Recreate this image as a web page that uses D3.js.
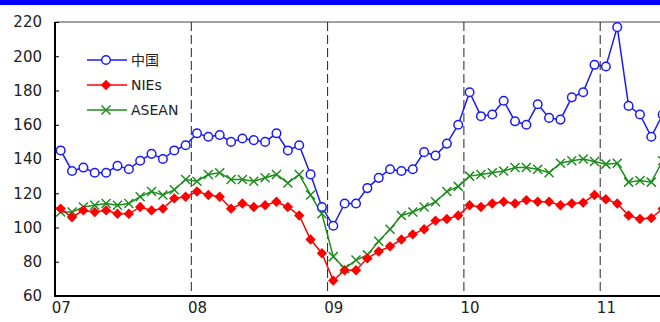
<!DOCTYPE html>
<html><head><meta charset="utf-8">
<script src="https://cdn.jsdelivr.net/npm/d3@7"></script>
<style>body{margin:0;background:#fff}svg{display:block}</style>
</head><body>
<svg id="c" width="660" height="322"></svg>
<script>
const years = ["07","08","09","10","11"];
const seriesNames = ["中国","NIEs","ASEAN"];
const china = [145,133,135,132,132,136,134,139,143,140,145,148,
155,153,154,150,152,151,150,155,145,148,131,112,
101,114,114,123,129,134,133,134,144,142,149,160,
179,165,166,174,162,160,172,164,163,176,179,195,
194,217,171,166,153,166];
const nies = [111,106,110,109,110,108,108,112,110,111,117,118,
121,119,118,111,114,112,113,115,112,107,93,85,
69,75,75,82,86,89,93,96,99,104,105,107,
113,112,114,115,114,116,115,115,113,114,114.5,119,
116.5,114,107,105,105.5,111];
const asean = [109,109,112,113,114,113,114,118,121,119,122,128,
127,131,132,128,128,127,129,131,126,131,119,108,
83,76,81,84,92,99,107,109,112,115,121,124,
130,131,132,133,135,135,134,132,137.5,139,140,138.5,
137,137.5,126.5,127.5,126.5,139];
const yTicks = [60,80,100,120,140,160,180,200,220];

const svg = d3.select("#c");
const L = 55, T = 22, B = 296;
const x = d3.scaleLinear().domain([0,5]).range([L, L + 5*136.3]);
const y = d3.scaleLinear().domain([60,220]).range([B, T]);
const tx = i => x(Math.floor(i/12) + ((i%12)+0.5)/12);

// top blue band
svg.append("rect").attr("x",0).attr("y",0).attr("width",660).attr("height",5).attr("fill","#0000ff");

// top frame line
svg.append("line").attr("x1",L).attr("x2",660).attr("y1",T).attr("y2",T).attr("stroke","#444").attr("stroke-width",1);

// year dashed lines
years.slice(1).forEach((yr,k)=>{
  svg.append("line").attr("x1",x(k+1)).attr("x2",x(k+1)).attr("y1",T).attr("y2",B)
    .attr("stroke","#222").attr("stroke-width",1).attr("stroke-dasharray","9,4");
});

// y axis
const yAxis = d3.axisLeft(y).tickValues(yTicks).tickSize(-4).tickPadding(13);
const gy = svg.append("g").attr("transform",`translate(${L},0)`).call(yAxis);
gy.select(".domain").remove();
gy.selectAll("text").attr("font-family","DejaVu Sans, Verdana, sans-serif").attr("font-size",15).attr("fill","#222");
gy.selectAll("line").attr("stroke","#000");

// x labels
const xAxis = d3.axisBottom(x).tickValues(years.map((d,i)=>i+0.5/12)).tickFormat((d,i)=>years[i]).tickSize(0).tickPadding(6);
const gx = svg.append("g").attr("transform",`translate(0,${B})`).call(xAxis);
gx.select(".domain").remove();
gx.selectAll("text").attr("font-family","DejaVu Sans, Verdana, sans-serif").attr("font-size",15).attr("fill","#222");

// axes lines
svg.append("line").attr("x1",L).attr("x2",L).attr("y1",T).attr("y2",B+1).attr("stroke","#000").attr("stroke-width",2);
svg.append("line").attr("x1",L-1).attr("x2",660).attr("y1",B).attr("y2",B).attr("stroke","#000").attr("stroke-width",2);

const line = d3.line().x((d,i)=>tx(i)).y(d=>y(d));
const series = [
  {name:seriesNames[0], data:china, color:"#1a1aff", marker:"circle"},
  {name:seriesNames[1], data:nies, color:"#ff0000", marker:"diamond"},
  {name:seriesNames[2], data:asean, color:"#1e8c1e", marker:"x"}
];

function drawMarker(g, m, cx, cy, color){
  if(m==="circle"){
    g.append("circle").attr("cx",cx).attr("cy",cy).attr("r",4.3).attr("fill","#fff").attr("stroke",color).attr("stroke-width",1.5);
  } else if(m==="diamond"){
    const s=5.2;
    g.append("path").attr("d",`M${cx},${cy-s}L${cx+s},${cy}L${cx},${cy+s}L${cx-s},${cy}Z`).attr("fill",color);
  } else {
    const s=4.5;
    g.append("path").attr("d",`M${cx-s},${cy-s}L${cx+s},${cy+s}M${cx-s},${cy+s}L${cx+s},${cy-s}`).attr("stroke",color).attr("stroke-width",1.5).attr("fill","none");
  }
}

const plot = svg.append("g");
[2,1,0].forEach(k=>{
  const s = series[k];
  plot.append("path").datum(s.data).attr("d",line).attr("fill","none").attr("stroke",s.color).attr("stroke-width",1.5);
});
[2,1,0].forEach(k=>{
  const s = series[k];
  const g = plot.append("g");
  s.data.forEach((v,i)=>drawMarker(g, s.marker, tx(i), y(v), s.color));
});

// legend
const lg = svg.append("g");
series.forEach((s,k)=>{
  const ly = 60 + k*25;
  lg.append("line").attr("x1",87).attr("x2",127).attr("y1",ly).attr("y2",ly).attr("stroke",s.color).attr("stroke-width",1.5);
  drawMarker(lg, s.marker, 106, ly, s.color);
  lg.append("text").attr("x",131).attr("y",ly).attr("dy","0.36em").text(s.name)
    .attr("font-family", k===0 ? "Noto Sans CJK SC, sans-serif" : "DejaVu Sans, Verdana, sans-serif")
    .attr("font-size",14).attr("fill","#222");
});
</script>
</body></html>
